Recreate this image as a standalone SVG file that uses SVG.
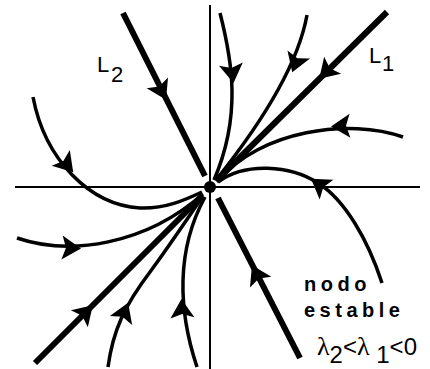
<svg xmlns="http://www.w3.org/2000/svg" xmlns:xlink="http://www.w3.org/1999/xlink" width="430" height="369" viewBox="0 0 430 369">
<style>
.axis{stroke:#000;stroke-width:2;fill:none}
.eig{stroke:#000;stroke-width:6;fill:none}
.traj{stroke:#000;stroke-width:3.5;fill:none}
.lbl{font-family:"Liberation Sans",Arial,sans-serif;font-size:22px;fill:#000}
.note{font-family:"Liberation Sans",Arial,sans-serif;font-size:20px;font-weight:bold;letter-spacing:4.5px;fill:#000}
.cond{font-family:"Liberation Sans",Arial,sans-serif;font-size:24px;fill:#000}
.gr{font-family:"Liberation Serif","DejaVu Serif",serif;font-size:26px}
</style>
<defs>
<path id="ah" d="M11,0 L-8,-12 L-4,0 L-8,12 Z" fill="#000"/>
</defs>
<rect width="430" height="369" fill="#fff"/>
<g id="axes">
<line class="axis" x1="210" y1="5" x2="210" y2="369"/>
<line class="axis" x1="15" y1="187" x2="420" y2="187"/>
</g>
<g id="connectors">
<line class="eig" x1="123" y1="13" x2="205" y2="176"/>
<line class="eig" x1="218" y1="198" x2="300" y2="358"/>
<line class="eig" x1="387" y1="12" x2="216" y2="181"/>
<line class="eig" x1="202" y1="196" x2="35" y2="363"/>
<path class="traj" d="M220,13 C232,60 242,115 214,180"/>
<path class="traj" d="M307,15 C298,65 260,125 216,180"/>
<path class="traj" d="M403,137 C350,118 260,130 218,181"/>
<path class="traj" d="M382,283 C368,240 345,200 318,183 C290,165 245,162 218,182"/>
<path class="traj" d="M33,97 C45,160 90,205 140,208 C165,209 185,200 202,192"/>
<path class="traj" d="M17,238 C70,256 145,245 203,194"/>
<path class="traj" d="M108,367 C113,330 125,305 150,272 C170,245 190,215 203,196"/>
<path class="traj" d="M197,367 C178,310 176,250 205,197"/>
</g>
<g id="arrows">
<use xlink:href="#ah" transform="translate(161,90) rotate(62.8)"/>
<use xlink:href="#ah" transform="translate(257,275) rotate(242.8)"/>
<use xlink:href="#ah" transform="translate(327,71) rotate(135)"/>
<use xlink:href="#ah" transform="translate(85,313) rotate(-45)"/>
<use xlink:href="#ah" transform="translate(232,72) rotate(82)"/>
<use xlink:href="#ah" transform="translate(296,62) rotate(110)"/>
<use xlink:href="#ah" transform="translate(342,126) rotate(178)"/>
<use xlink:href="#ah" transform="translate(320,185) rotate(215)"/>
<use xlink:href="#ah" transform="translate(66,164) rotate(49)"/>
<use xlink:href="#ah" transform="translate(70,248) rotate(3)"/>
<use xlink:href="#ah" transform="translate(124,313) rotate(-68)"/>
<use xlink:href="#ah" transform="translate(182,310) rotate(-93)"/>
</g>
<g id="origin">
<circle cx="210" cy="187" r="6" fill="#000"/>
</g>
<g id="label-L2">
<text class="lbl" x="97" y="72">L<tspan x="111" y="82">2</tspan></text>
</g>
<g id="label-L1">
<text class="lbl" x="369" y="63">L<tspan x="382" y="71">1</tspan></text>
</g>
<g id="label-nodo">
<text class="note" x="304" y="291">nodo</text>
<text class="note" x="304" y="317">estable</text>
</g>
<g id="label-cond">
<text class="cond" x="317" y="355"><tspan class="gr">λ</tspan><tspan dy="8">2</tspan><tspan dy="-8">&lt;</tspan><tspan class="gr">λ</tspan><tspan dy="8"> 1</tspan><tspan dy="-8">&lt;0</tspan></text>
</g>
</svg>
